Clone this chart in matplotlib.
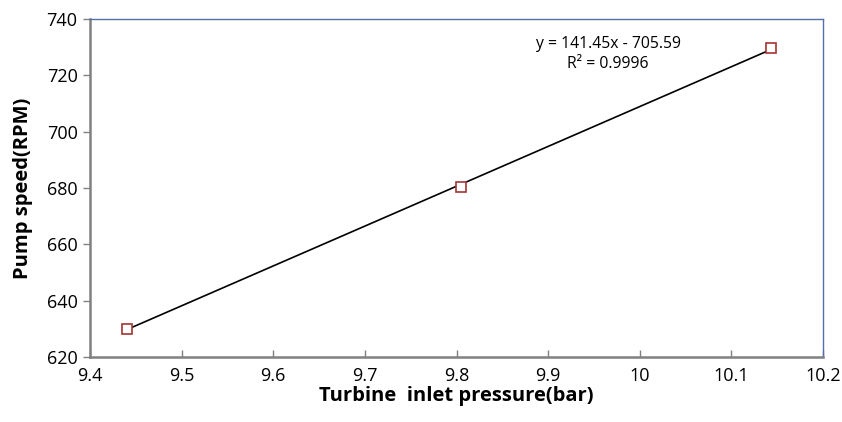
import numpy as np
import matplotlib
matplotlib.use("Agg")
import matplotlib.pyplot as plt

pressure = [9.44, 9.805, 10.143]
speed = [630.0, 680.3, 729.6]
trend_slope = 141.45
trend_intercept = -705.59
trend_r2 = 0.9996
xticks = [9.4, 9.5, 9.6, 9.7, 9.8, 9.9, 10.0, 10.1, 10.2]
xticklabels = ["9.4", "9.5", "9.6", "9.7", "9.8", "9.9", "10", "10.1", "10.2"]
yticks = [620, 640, 660, 680, 700, 720, 740]

plt.rcParams['font.family'] = ['Open Sans', 'DejaVu Sans']

fig = plt.figure(figsize=(8.42, 4.22), dpi=100)
ax = fig.add_axes([90/842, 1-357/422, (823-90)/842, (357-19)/422])

xs = np.array([min(pressure), max(pressure)])
ax.plot(xs, trend_slope*xs + trend_intercept, color='black', lw=1.2, zorder=2)
ax.plot(pressure, speed, linestyle='none', marker='s', markersize=6.8,
        markerfacecolor='white', markeredgecolor='#A33533', markeredgewidth=1.2, zorder=3)

ax.set_xlim(9.4, 10.2)
ax.set_ylim(620, 740)
ax.set_xticks(xticks)
ax.set_xticklabels(xticklabels)
ax.set_yticks(yticks)
ax.tick_params(axis='x', direction='in', length=5, width=1, color='#808080', labelsize=13, pad=7)
ax.tick_params(axis='y', direction='out', length=5, width=1, color='#808080', labelsize=13, pad=4)

for s in ['left', 'bottom']:
    ax.spines[s].set_color('#808080')
    ax.spines[s].set_linewidth(1.8)
for s in ['top', 'right']:
    ax.spines[s].set_color('#5470A8')
    ax.spines[s].set_linewidth(1.0)

ax.set_xlabel('Turbine  inlet pressure(bar)', fontsize=14.5, fontweight='bold', labelpad=1)
ax.set_ylabel('Pump speed(RPM)', fontsize=14.5, fontweight='bold', labelpad=10)

ax.text(0.707, 0.896, f'y = {trend_slope:.2f}x - {abs(trend_intercept):.2f}\nR² = {trend_r2}',
        transform=ax.transAxes, ha='center', va='center', fontsize=11.3, linespacing=1.3)

fig.savefig('out.png', dpi=100)
